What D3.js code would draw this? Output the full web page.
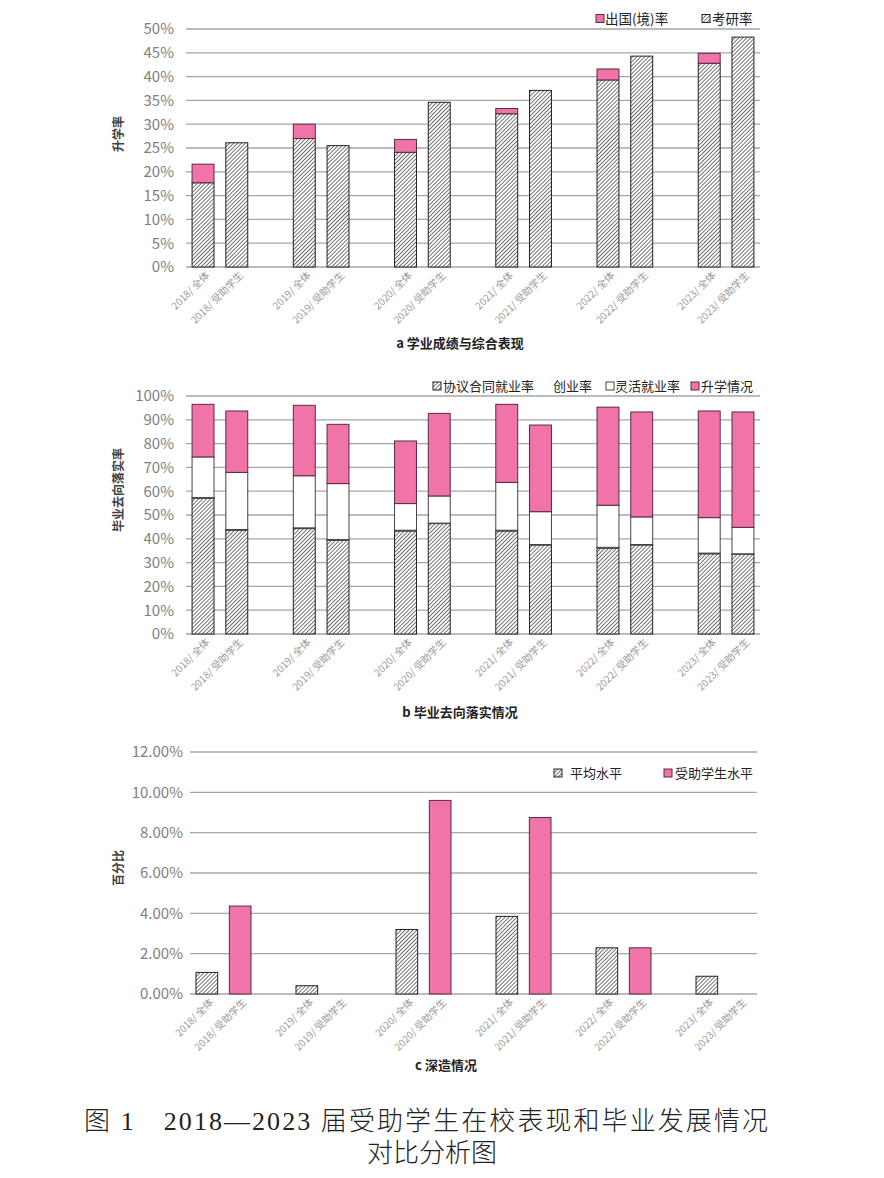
<!DOCTYPE html>
<html>
<head>
<meta charset="utf-8">
<script src="https://cdn.jsdelivr.net/npm/d3@7"></script>
<style>
	body { margin: 0; background: #fff; }
	text { font-family: 'Noto Sans CJK SC', 'Noto Sans', sans-serif; }
</style>
</head>
<body>
<div id="figure"></div>
<script>
var years = ['2018', '2019', '2020', '2021', '2022', '2023']
var groups = ['全体', '受助学生']

// a 学业成绩与综合表现 (order: 2018全体, 2018受助, 2019全体, ...)
var gradRate = [17.7, 26.1, 27.0, 25.5, 24.1, 34.6, 32.2, 37.1, 39.3, 44.3, 42.8, 48.3]
var abroadRate = [3.9, 0, 3.0, 0, 2.7, 0, 1.1, 0, 2.3, 0, 2.1, 0]
var aTicks = [0, 5, 10, 15, 20, 25, 30, 35, 40, 45, 50]

// b 毕业去向落实情况
var contractRate = [57.0, 43.6, 44.3, 39.4, 43.3, 46.4, 43.3, 37.4, 36.1, 37.4, 33.7, 33.5]
var startupRate = [0.3, 0.3, 0.3, 0.3, 0.3, 0.2, 0.3, 0.2, 0.3, 0.2, 0.3, 0.2]
var flexibleRate = [17.1, 24.0, 21.9, 23.5, 11.2, 11.4, 20.1, 13.8, 17.7, 11.6, 14.9, 11.1]
var furtherRate = [22.1, 25.8, 29.6, 24.9, 26.3, 34.7, 32.8, 36.4, 41.2, 44.1, 44.8, 48.5]
var bTicks = [0, 10, 20, 30, 40, 50, 60, 70, 80, 90, 100]

// c 深造情况
var avgLevel = [1.07, 0, 0.41, 0, 3.20, 0, 3.85, 0, 2.29, 0, 0.88, 0]
var aidedLevel = [0, 4.36, 0, 0, 0, 9.60, 0, 8.75, 0, 2.29, 0, 0]
var cTicks = [0, 2, 4, 6, 8, 10, 12]

var PINK = '#f074a7'
var PINK_LINE = '#5a2a42'
var GRID = '#a6a6a6'

var width = 884
var height = 1178

const svg = d3.select('#figure').append('svg')
	.attr('width', width)
	.attr('height', height)
	.style('display', 'block')

// hatch pattern ("/" lines)
var defs = svg.append('defs')
defs.append('pattern')
	.attr('id', 'hatch')
	.attr('patternUnits', 'userSpaceOnUse')
	.attr('width', 2.8)
	.attr('height', 2.8)
	.attr('patternTransform', 'rotate(45)')
	.call(p => p.append('rect').attr('width', 2.8).attr('height', 2.8).attr('fill', '#fff'))
	.append('line')
	.attr('x1', 0).attr('y1', 0).attr('x2', 0).attr('y2', 2.8)
	.attr('stroke', '#000')
	.attr('stroke-width', 1.1)

// bar slots: two bars per year, an empty slot between years
var bars = []
var slots = []
years.forEach((y, i) => {
	groups.forEach(g => {
		bars.push(y + '/ ' + g)
		slots.push(y + '/ ' + g)
	})
	if (i < years.length - 1) slots.push('gap' + i)
})

var hatchStyle = { fill: 'url(#hatch)', stroke: '#222' }
var pinkStyle = { fill: PINK, stroke: PINK_LINE }
var whiteStyle = { fill: '#fff', stroke: '#444' }

function drawPanel(opt) {
	var g = svg.append('g')

	var x = d3.scaleBand()
		.domain(slots)
		.range([opt.x0, opt.x1])
		.paddingInner(0.35)
		.paddingOuter(0.18)

	var y = d3.scaleLinear()
		.domain([0, d3.max(opt.ticks)])
		.range([opt.yBottom, opt.yTop])

	// grid
	g.selectAll('.grid')
		.data(opt.ticks)
		.enter()
		.append('line')
		.attr('x1', opt.x0)
		.attr('x2', opt.x1)
		.attr('y1', d => y(d))
		.attr('y2', d => y(d))
		.attr('stroke', GRID)
		.attr('stroke-width', 1.3)

	// y tick labels
	g.selectAll('.ytick')
		.data(opt.ticks)
		.enter()
		.append('text')
		.attr('x', opt.labelX)
		.attr('y', d => y(d))
		.attr('dy', '0.36em')
		.attr('text-anchor', 'end')
		.attr('fill', '#7f7f7f')
		.style('font-size', '15px')
		.text(opt.tickFormat)

	// stacked bars
	var rows = bars.map((b, i) => {
		var r = { key: b }
		opt.series.forEach((s, j) => { r['s' + j] = s.values[i] })
		return r
	})
	var stack = d3.stack().keys(opt.series.map((s, j) => 's' + j))(rows)

	stack.forEach((layer, j) => {
		var st = opt.series[j].style
		g.selectAll('.layer' + j)
			.data(layer.filter(d => d[1] - d[0] > 0))
			.enter()
			.append('rect')
			.attr('x', d => x(d.data.key))
			.attr('width', x.bandwidth())
			.attr('y', d => y(d[1]))
			.attr('height', d => y(d[0]) - y(d[1]))
			.attr('fill', st.fill)
			.attr('stroke', st.stroke)
			.attr('stroke-width', 1)
	})

	// x labels
	g.selectAll('.xtick')
		.data(bars)
		.enter()
		.append('text')
		.attr('transform', d => 'translate(' + (x(d) + x.bandwidth() / 2 + 7) + ',' + (opt.yBottom + 9) + ') rotate(-45)')
		.attr('text-anchor', 'end')
		.attr('fill', '#9a9a9a')
		.style('font-size', '10px')
		.text(d => d)

	// y title
	g.append('text')
		.attr('transform', 'translate(' + 123 + ',' + opt.yTitleY + ') rotate(-90)')
		.attr('text-anchor', 'middle')
		.attr('fill', '#404040')
		.style('font-size', '12px')
		.style('font-weight', 'bold')
		.text(opt.yTitle)

	// panel title
	g.append('text')
		.attr('x', opt.titleX)
		.attr('y', opt.titleY)
		.attr('text-anchor', 'middle')
		.attr('fill', '#222')
		.style('font-size', '13px')
		.style('font-weight', 'bold')
		.text(opt.title)

	// legend
	var legend = g.append('g').attr('class', 'legend')
	opt.legend.forEach(item => {
		if (item.style) {
			legend.append('rect')
				.attr('x', item.x)
				.attr('y', opt.legendY - 9)
				.attr('width', 8)
				.attr('height', 8)
				.attr('fill', item.style.fill)
				.attr('stroke', item.style.stroke)
				.attr('stroke-width', 1)
		}
		legend.append('text')
			.attr('x', item.x + item.dx)
			.attr('y', opt.legendY)
			.attr('fill', '#222')
			.style('font-size', opt.legendSize)
			.text(item.name)
	})
}

drawPanel({
	x0: 186, x1: 760, yTop: 29, yBottom: 267, labelX: 174,
	ticks: aTicks,
	tickFormat: d => d + '%',
	series: [
		{ values: gradRate, style: hatchStyle },
		{ values: abroadRate, style: pinkStyle }
	],
	yTitle: '升学率', yTitleY: 134,
	title: 'a 学业成绩与综合表现', titleX: 460, titleY: 348,
	legendY: 23.5, legendSize: '13.5px',
	legend: [
		{ name: '出国(境)率', x: 596, dx: 9, style: pinkStyle },
		{ name: '考研率', x: 702, dx: 10, style: hatchStyle }
	]
})

drawPanel({
	x0: 186, x1: 760, yTop: 396, yBottom: 634, labelX: 174,
	ticks: bTicks,
	tickFormat: d => d + '%',
	series: [
		{ values: contractRate, style: hatchStyle },
		{ values: startupRate, style: whiteStyle },
		{ values: flexibleRate, style: whiteStyle },
		{ values: furtherRate, style: pinkStyle }
	],
	yTitle: '毕业去向落实率', yTitleY: 490,
	title: 'b 毕业去向落实情况', titleX: 460, titleY: 717,
	legendY: 391, legendSize: '13px',
	legend: [
		{ name: '协议合同就业率', x: 433, dx: 10, style: hatchStyle },
		{ name: '创业率', x: 553, dx: 0, style: null },
		{ name: '灵活就业率', x: 606, dx: 9, style: whiteStyle },
		{ name: '升学情况', x: 691, dx: 10, style: pinkStyle }
	]
})

drawPanel({
	x0: 190, x1: 757, yTop: 752, yBottom: 994, labelX: 183,
	ticks: cTicks,
	tickFormat: d => d.toFixed(2) + '%',
	series: [
		{ values: avgLevel, style: hatchStyle },
		{ values: aidedLevel, style: pinkStyle }
	],
	yTitle: '百分比', yTitleY: 868,
	title: 'c  深造情况', titleX: 446, titleY: 1070,
	legendY: 778, legendSize: '13px',
	legend: [
		{ name: '平均水平', x: 554, dx: 16, style: hatchStyle },
		{ name: '受助学生水平', x: 664, dx: 11, style: pinkStyle }
	]
})

// figure caption
svg.append('text')
	.attr('x', 426)
	.attr('y', 1130)
	.attr('text-anchor', 'middle')
	.attr('fill', '#222')
	.style('font-size', '26px')
	.style('font-weight', 300)
	.style('font-family', "'Liberation Serif', 'Noto Sans CJK SC', serif")
	.attr('textLength', 684)
	.attr('lengthAdjust', 'spacing')
	.text('图 1　2018—2023 届受助学生在校表现和毕业发展情况')

svg.append('text')
	.attr('x', 432)
	.attr('y', 1162)
	.attr('text-anchor', 'middle')
	.attr('fill', '#222')
	.style('font-size', '26px')
	.style('font-weight', 300)
	.style('font-family', "'Liberation Serif', 'Noto Sans CJK SC', serif")
	.text('对比分析图')
</script>
</body>
</html>
